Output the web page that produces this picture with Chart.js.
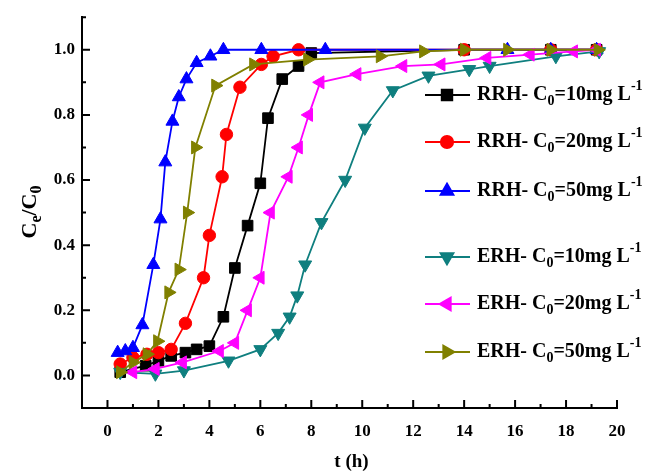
<!DOCTYPE html>
<html>
<head>
<meta charset="utf-8">
<script src="https://cdn.jsdelivr.net/npm/chart.js@4"></script>
<style>
  html, body { margin: 0; padding: 0; background: #fff; }
  #wrap { width: 657px; height: 472px; }
</style>
</head>
<body>
<div id="wrap"><canvas id="grafico"></canvas></div>
<script>
// breakthrough data, t in hours, Ce/C0
var seriesNames = ["RRH- C0=10mg L-1", "RRH- C0=20mg L-1", "RRH- C0=50mg L-1",
                   "ERH- C0=10mg L-1", "ERH- C0=20mg L-1", "ERH- C0=50mg L-1"];

var tRRH10 = [0.5, 1.5, 2.0, 2.5, 3.06, 3.5, 4.0, 4.55, 5.0, 5.5, 6.0, 6.3, 6.86, 7.5, 8.0, 14.0, 17.4, 19.2];
var vRRH10 = [0.01, 0.03, 0.045, 0.06, 0.07, 0.08, 0.09, 0.18, 0.33, 0.46, 0.59, 0.79, 0.91, 0.95, 0.99, 1.0, 1.0, 1.0];

var tRRH20 = [0.5, 1.0, 1.55, 2.0, 2.5, 3.06, 3.77, 4.0, 4.5, 4.67, 5.2, 6.04, 6.5, 7.5, 14.0, 17.4, 19.2];
var vRRH20 = [0.035, 0.055, 0.065, 0.07, 0.08, 0.16, 0.30, 0.43, 0.61, 0.74, 0.885, 0.955, 0.98, 1.0, 1.0, 1.0, 1.0];

var tRRH50 = [0.4, 0.7, 1.0, 1.37, 1.8, 2.08, 2.27, 2.55, 2.8, 3.1, 3.5, 4.04, 4.55, 6.04, 8.55, 15.7, 17.4, 19.2];
var vRRH50 = [0.07, 0.075, 0.085, 0.155, 0.34, 0.48, 0.655, 0.78, 0.855, 0.91, 0.96, 0.98, 1.0, 1.0, 1.0, 1.0, 1.0, 1.0];

var tERH10 = [0.5, 1.88, 3.0, 4.75, 6.0, 6.7, 7.15, 7.45, 7.76, 8.4, 9.33, 10.1, 11.2, 12.6, 14.2, 15.0, 17.6, 19.3];
var vERH10 = [0.01, 0.005, 0.015, 0.045, 0.08, 0.13, 0.18, 0.245, 0.34, 0.47, 0.6, 0.76, 0.875, 0.92, 0.94, 0.95, 0.98, 0.995];

var tERH20 = [1.0, 1.88, 2.95, 4.4, 5.0, 5.5, 6.0, 6.4, 7.1, 7.5, 7.9, 8.35, 9.8, 11.6, 13.1, 14.9, 16.6, 18.3, 19.2];
var vERH20 = [0.01, 0.02, 0.04, 0.075, 0.1, 0.2, 0.3, 0.5, 0.61, 0.7, 0.8, 0.9, 0.925, 0.95, 0.955, 0.975, 0.985, 0.995, 1.0];

var tERH50 = [0.5, 1.0, 1.55, 1.96, 2.4, 2.8, 3.13, 3.45, 4.24, 5.73, 7.85, 10.7, 12.4, 14.0, 15.7, 17.4, 19.25];
var vERH50 = [0.01, 0.04, 0.065, 0.105, 0.255, 0.325, 0.5, 0.70, 0.89, 0.955, 0.97, 0.98, 0.995, 1.0, 1.0, 1.0, 1.0];

var xTickVals = [0, 2, 4, 6, 8, 10, 12, 14, 16, 18, 20];
var xMinorVals = [1, 3, 5, 7, 9, 11, 13, 15, 17, 19];
var yTickVals = [0.0, 0.2, 0.4, 0.6, 0.8, 1.0];
var yMinorVals = [0.1, 0.3, 0.5, 0.7, 0.9, 1.1];

var FONT = '"Liberation Serif", "Times New Roman", serif';

function pts(t, v) {
    return t.map(function (x, i) { return { x: x, y: v[i] }; });
}

var styles = [
    { color: '#000000', pointStyle: 'rect', rotation: 0, radius: 7.5 },
    { color: '#ff0000', pointStyle: 'circle', rotation: 0, radius: 6.2 },
    { color: '#0000ff', pointStyle: 'triangle', rotation: 0, radius: 7.5 },
    { color: '#0f7f7f', pointStyle: 'triangle', rotation: 180, radius: 7.5 },
    { color: '#ff00ff', pointStyle: 'triangle', rotation: 270, radius: 7.5 },
    { color: '#808000', pointStyle: 'triangle', rotation: 90, radius: 7.5 }
];
var seriesData = [pts(tRRH10, vRRH10), pts(tRRH20, vRRH20), pts(tRRH50, vRRH50),
                  pts(tERH10, vERH10), pts(tERH20, vERH20), pts(tERH50, vERH50)];

var datasets = seriesData.map(function (d, i) {
    var s = styles[i];
    return {
        label: seriesNames[i],
        data: d,
        borderColor: s.color,
        backgroundColor: s.color,
        pointBackgroundColor: s.color,
        pointBorderColor: s.color,
        pointStyle: s.pointStyle,
        rotation: s.rotation,
        pointRadius: s.radius,
        pointBorderWidth: 1,
        borderWidth: 1.8,
        fill: false,
        tension: 0,
        order: 6 - i
    };
});

// text with sub/superscripts: parts = [[text, 'n'|'sub'|'sup'], ...]
function drawRich(ctx, parts, x, y, size) {
    parts.forEach(function (p) {
        var fs = p[1] === 'n' ? size : Math.round(size * 0.72);
        var dy = p[1] === 'sub' ? size * 0.3 : (p[1] === 'sup' ? -size * 0.42 : 0);
        ctx.font = 'bold ' + fs + 'px ' + FONT;
        ctx.fillText(p[0], x, y + dy);
        x += ctx.measureText(p[0]).width;
    });
    return x;
}
function richWidth(ctx, parts, size) {
    var w = 0;
    parts.forEach(function (p) {
        var fs = p[1] === 'n' ? size : Math.round(size * 0.72);
        ctx.font = 'bold ' + fs + 'px ' + FONT;
        w += ctx.measureText(p[0]).width;
    });
    return w;
}

var extras = {
    id: 'extras',
    afterDraw: function (chart) {
        var ctx = chart.ctx;
        var xs = chart.scales.x, ys = chart.scales.y;
        var a = chart.chartArea;
        ctx.save();
        ctx.strokeStyle = '#000';
        ctx.lineWidth = 2;
        // inward ticks
        ctx.beginPath();
        xTickVals.forEach(function (v) { var p = xs.getPixelForValue(v); ctx.moveTo(p, a.bottom); ctx.lineTo(p, a.bottom - 8); });
        xMinorVals.forEach(function (v) { var p = xs.getPixelForValue(v); ctx.moveTo(p, a.bottom); ctx.lineTo(p, a.bottom - 4); });
        yTickVals.forEach(function (v) { var p = ys.getPixelForValue(v); ctx.moveTo(a.left, p); ctx.lineTo(a.left + 8, p); });
        yMinorVals.forEach(function (v) { var p = ys.getPixelForValue(v); ctx.moveTo(a.left, p); ctx.lineTo(a.left + 4, p); });
        ctx.stroke();

        ctx.fillStyle = '#000';
        ctx.textBaseline = 'middle';

        // x title
        ctx.font = 'bold 19px ' + FONT;
        ctx.textAlign = 'center';
        ctx.fillText('t (h)', (a.left + a.right) / 2 + 2, 462);

        // y title, rotated
        ctx.save();
        ctx.translate(30, 212);
        ctx.rotate(-Math.PI / 2);
        ctx.textAlign = 'left';
        var yt = [['C', 'n'], ['e', 'sub'], ['/C', 'n'], ['0', 'sub']];
        drawRich(ctx, yt, -richWidth(ctx, yt, 22) / 2, 0, 22);
        ctx.restore();

        // legend
        var rows = [95, 142, 191, 257, 304, 352];
        ctx.textAlign = 'left';
        rows.forEach(function (ry, i) {
            var s = styles[i];
            ctx.strokeStyle = s.color;
            ctx.fillStyle = s.color;
            ctx.lineWidth = 1.8;
            ctx.beginPath();
            ctx.moveTo(425, ry);
            ctx.lineTo(470, ry);
            ctx.stroke();
            Chart.helpers.drawPoint(ctx, { pointStyle: s.pointStyle, rotation: s.rotation, radius: s.radius, borderWidth: 1 }, 447, ry);
            ctx.fill();
            ctx.fillStyle = '#000';
            var m = seriesNames[i].match(/^(\S+ C)0(=\d+mg L)-1$/);
            drawRich(ctx, [[m[1], 'n'], ['0', 'sub'], [m[2], 'n'], ['-1', 'sup']], 477, ry, 20);
        });
        ctx.restore();
    }
};

var ctx = document.querySelector('#grafico').getContext('2d');
var chart = new Chart(ctx, {
    type: 'line',
    data: { datasets: datasets },
    options: {
        responsive: true,
        maintainAspectRatio: false,
        animation: false,
        layout: { padding: { left: 0, right: 40, top: 14, bottom: 0 } },
        plugins: { legend: { display: false }, tooltip: { enabled: false } },
        scales: {
            x: {
                type: 'linear',
                min: -1,
                max: 20,
                afterBuildTicks: function (s) { s.ticks = xTickVals.map(function (v) { return { value: v }; }); },
                afterFit: function (s) { s.height = 64; },
                grid: { display: false, drawTicks: false },
                border: { display: true, color: '#000', width: 2 },
                ticks: {
                    color: '#000',
                    padding: 13,
                    maxRotation: 0,
                    font: { family: FONT, size: 17, weight: 'bold' }
                }
            },
            y: {
                type: 'linear',
                min: -0.1,
                max: 1.1,
                afterBuildTicks: function (s) { s.ticks = yTickVals.map(function (v) { return { value: v }; }); },
                afterFit: function (s) { s.width = 82; },
                grid: { display: false, drawTicks: false },
                border: { display: true, color: '#000', width: 2 },
                ticks: {
                    color: '#000',
                    padding: 7,
                    font: { family: FONT, size: 17, weight: 'bold' },
                    callback: function (v) { return v.toFixed(1); }
                }
            }
        }
    },
    plugins: [extras]
});
</script>
</body>
</html>
